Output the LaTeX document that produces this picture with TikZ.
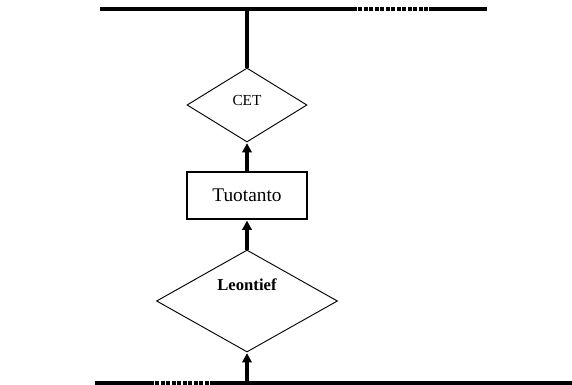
\documentclass[tikz,border=0pt]{standalone}
\usepackage{fontspec}
\setmainfont{Liberation Serif}
\usetikzlibrary{shapes.geometric,arrows.meta}
\tikzset{
  pu/.style={x=0.75pt, y=-0.75pt},
  rail/.style={line width=3pt},
  railgap/.style={line width=3pt, dash pattern=on 3pt off 1.1pt},
  flow/.style={line width=2.7pt},
  flowarrow/.style={line width=2.7pt, -{Triangle[length=7pt,width=7pt]}, shorten >=0.5pt},
  decision/.style={diamond, draw, line width=0.7pt, inner sep=0pt},
  block/.style={rectangle, draw, line width=1.6pt, inner sep=0pt,
    minimum width=90pt, minimum height=35pt}
}
\begin{document}
\begin{tikzpicture}[pu]
    \useasboundingbox (0,0) rectangle (572,385);
    % upper rail
    \coordinate (ta) at (100,9);
    \coordinate (tb) at (353,9);
    \coordinate (tc) at (429,9);
    \coordinate (td) at (487,9);
    \coordinate (tj) at (247,9);
    \draw[rail] (ta) -- (tb);
    \draw[railgap] (tb) -- (tc);
    \draw[rail] (tc) -- (td);
    % lower rail
    \coordinate (ba) at (95,383);
    \coordinate (bb) at (150,383);
    \coordinate (bc) at (213,383);
    \coordinate (bd) at (572,383);
    \coordinate (bj) at (247,383);
    \draw[rail] (ba) -- (bb);
    \draw[railgap] (bb) -- (bc);
    \draw[rail] (bc) -- (bd);
    % nodes
    \node[decision, minimum width=90pt, minimum height=55.5pt,
      label={[yshift=3.75pt, font=\fontsize{11.5}{13}\selectfont]center:CET}] (cet) at (247,105) {};
    \node[block, font=\fontsize{14.5}{17}\selectfont] (tuot) at (247,195.5) {Tuotanto};
    \node[decision, minimum width=135.75pt, minimum height=76.5pt,
      label={[yshift=12pt, font=\fontsize{12.5}{15}\selectfont\bfseries]center:Leontief}] (leon) at (247,301) {};
    % connectors
    \draw[flow] (tj) -- (cet.north);
    \draw[flowarrow] (tuot.north) -- (cet.south);
    \draw[flowarrow] (leon.north) -- (tuot.south);
    \draw[flowarrow] (bj) -- (leon.south);
\end{tikzpicture}
\end{document}
